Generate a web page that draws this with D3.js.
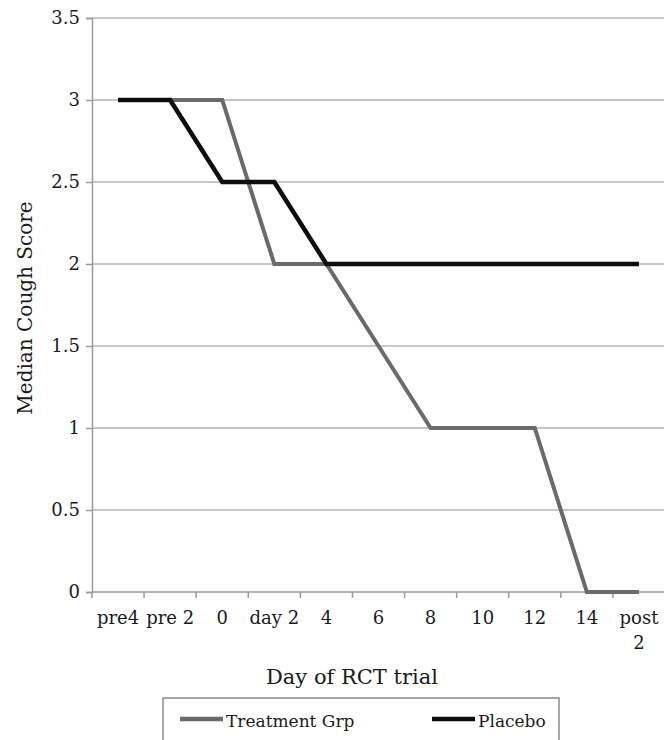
<!DOCTYPE html>
<html>
<head>
<meta charset="utf-8">
<script src="https://cdn.jsdelivr.net/npm/d3@7/dist/d3.min.js"></script>
<style>
  html, body { margin: 0; padding: 0; background: #fff; }
  svg { display: block; }
  text { font-family: "DejaVu Serif", "Liberation Serif", serif; fill: #1a1a1a; }
</style>
</head>
<body>
<svg id="chart" width="664" height="740"></svg>
<script>
const categories = ["pre4", "pre 2", "0", "day 2", "4", "6", "8", "10", "12", "14", "post 2"];
const treatment = [3, 3, 3, 2, 2, 1.5, 1, 1, 1, 0, 0];
const placebo   = [3, 3, 2.5, 2.5, 2, 2, 2, 2, 2, 2, 2];
const yTicks = [0, 0.5, 1, 1.5, 2, 2.5, 3, 3.5];
const seriesNames = ["Treatment Grp", "Placebo"];

const svg = d3.select("#chart");
const plotL = 92, plotR = 665, plotT = 18, plotB = 592;

const x = d3.scalePoint().domain(categories).range([plotL, plotR]).padding(0.5);
const y = d3.scaleLinear().domain([0, 3.5]).range([plotB, plotT]);
const step = x.step();

// gridlines
svg.append("g").selectAll("line").data(yTicks.filter(d => d > 0)).join("line")
  .attr("x1", plotL).attr("x2", 664)
  .attr("y1", d => y(d)).attr("y2", d => y(d))
  .attr("stroke", "#b4b4b4").attr("stroke-width", 1.5);

// y axis
const yAxis = svg.append("g").attr("transform", `translate(${plotL},0)`)
  .call(d3.axisLeft(y).tickValues(yTicks).tickSize(6).tickPadding(6).tickFormat(d3.format("")));
yAxis.select(".domain").attr("stroke", "#9a9a9a").attr("stroke-width", 1.5);
yAxis.selectAll(".tick line").attr("stroke", "#9a9a9a").attr("stroke-width", 1.5);
yAxis.selectAll(".tick text").attr("font-size", 18).attr("font-family", "DejaVu Serif").attr("fill", "#1a1a1a");

// x axis baseline + ticks at boundaries
svg.append("line").attr("x1", plotL).attr("x2", 664).attr("y1", plotB).attr("y2", plotB)
  .attr("stroke", "#9a9a9a").attr("stroke-width", 1.5);
const bounds = categories.map(c => x(c) - step / 2).concat([x(categories[categories.length - 1]) + step / 2]);
svg.append("g").selectAll("line").data(bounds).join("line")
  .attr("x1", d => d).attr("x2", d => d).attr("y1", plotB).attr("y2", plotB + 6)
  .attr("stroke", "#9a9a9a").attr("stroke-width", 1.5);

// x labels
const xl = svg.append("g").selectAll("text").data(categories).join("text")
  .attr("x", d => x(d)).attr("y", 624).attr("text-anchor", "middle").attr("font-size", 18);
xl.each(function(d) {
  const t = d3.select(this);
  if (d === "post 2") {
    t.append("tspan").attr("x", x(d)).text("post");
    t.append("tspan").attr("x", x(d)).attr("dy", 25).text("2");
  } else {
    t.text(d);
  }
});

// lines
const line = d3.line().x((d, i) => x(categories[i])).y(d => y(d));
svg.append("path").datum(treatment).attr("d", line)
  .attr("fill", "none").attr("stroke", "#6a6a6a").attr("stroke-width", 4)
  .attr("stroke-linejoin", "miter");
svg.append("path").datum(placebo).attr("d", line)
  .attr("fill", "none").attr("stroke", "#0d0d0d").attr("stroke-width", 4.5)
  .attr("stroke-linejoin", "miter");

// axis titles
svg.append("text").attr("x", 352).attr("y", 684).attr("text-anchor", "middle")
  .attr("font-size", 21).text("Day of RCT trial");
svg.append("text").attr("transform", "translate(32,308) rotate(-90)").attr("text-anchor", "middle")
  .attr("font-size", 20).text("Median Cough Score");

// legend
svg.append("rect").attr("x", 163).attr("y", 698).attr("width", 396).attr("height", 50)
  .attr("fill", "#fff").attr("stroke", "#8a8a8a").attr("stroke-width", 1.5);
const legendItems = [
  { name: seriesNames[0], color: "#6a6a6a", x0: 180 },
  { name: seriesNames[1], color: "#0d0d0d", x0: 432 }
];
const lg = svg.append("g").selectAll("g").data(legendItems).join("g");
lg.append("line").attr("x1", d => d.x0).attr("x2", d => d.x0 + 43)
  .attr("y1", 719).attr("y2", 719).attr("stroke", d => d.color).attr("stroke-width", 4.5);
lg.append("text").attr("x", d => d.x0 + 46).attr("y", 727).attr("font-size", 17).text(d => d.name);
</script>
</body>
</html>
